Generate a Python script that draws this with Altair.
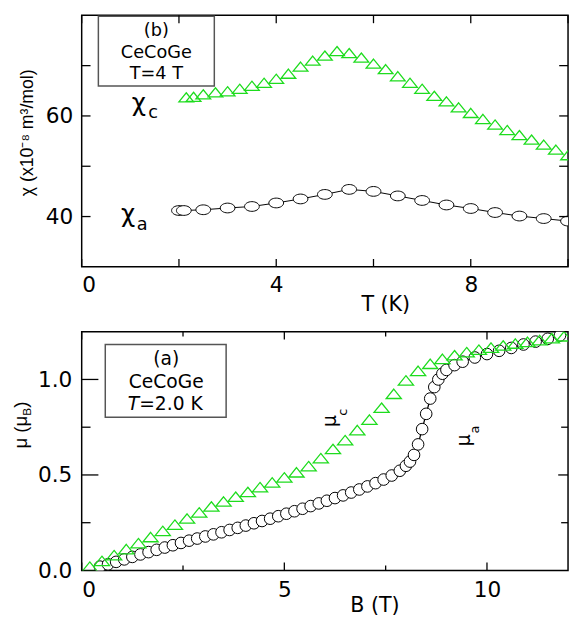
import altair as alt
import pandas as pd

# ---------------- panel (b): chi(T) at 4 T ----------------
chi_c_T = [2.15, 2.3, 2.5, 2.75, 3.0, 3.25, 3.5, 3.75, 4.0, 4.25, 4.5, 4.75, 5.0,
           5.25, 5.5, 5.75, 6.0, 6.25, 6.5, 6.75, 7.0, 7.25, 7.5, 7.75, 8.0, 8.25,
           8.5, 8.75, 9.0, 9.25, 9.5, 9.75, 10.0]
chi_c = [63.7, 63.8, 64.3, 64.7, 64.9, 65.4, 66.0, 66.6, 67.4, 68.4, 69.8, 71.0, 72.0,
         72.9, 72.5, 71.6, 70.4, 69.3, 67.9, 66.6, 65.4, 64.0, 62.9, 61.7, 60.6, 59.4,
         58.3, 57.2, 56.2, 55.3, 54.3, 53.3, 52.2]
chi_a_T = [2.0, 2.1, 2.5, 3.0, 3.5, 4.0, 4.5, 5.0, 5.5, 6.0, 6.5, 7.0, 7.5, 8.0,
           8.5, 9.0, 9.5, 10.0]
chi_a = [41.2, 41.2, 41.35, 41.7, 42.0, 42.7, 43.5, 44.4, 45.4, 45.0, 44.1, 43.2,
         42.3, 41.6, 40.8, 40.1, 39.6, 39.1]

# ---------------- panel (a): mu(B) at 2.0 K ----------------
mu_a_B = [0.45, 0.65, 0.85, 1.05, 1.25, 1.45, 1.65, 1.85, 2.05, 2.25, 2.45, 2.65,
          2.85, 3.05, 3.25, 3.45, 3.65, 3.85, 4.05, 4.25, 4.45, 4.65, 4.85, 5.05,
          5.25, 5.45, 5.65, 5.85, 6.05, 6.25, 6.45, 6.65, 6.85, 7.05, 7.25, 7.45,
          7.65, 7.85, 8.0, 8.1, 8.2, 8.3, 8.4, 8.5, 8.6, 8.7, 8.8, 8.9, 9.0, 9.2,
          9.4, 9.7, 10.0, 10.3, 10.6, 10.9, 11.2, 11.5, 11.8]
mu_a = [0.020, 0.032, 0.045, 0.058, 0.071, 0.084, 0.096, 0.108, 0.120, 0.132, 0.144,
        0.156, 0.167, 0.178, 0.189, 0.200, 0.212, 0.223, 0.235, 0.247, 0.259, 0.271,
        0.284, 0.297, 0.310, 0.323, 0.337, 0.351, 0.365, 0.379, 0.393, 0.408, 0.424,
        0.440, 0.457, 0.476, 0.497, 0.522, 0.548, 0.570, 0.605, 0.660, 0.740, 0.820,
        0.900, 0.960, 1.000, 1.030, 1.050, 1.075, 1.093, 1.115, 1.133, 1.150, 1.165,
        1.183, 1.198, 1.213, 1.230]
mu_c_B = [0.2, 0.5, 0.8, 1.1, 1.4, 1.7, 2.0, 2.3, 2.6, 2.9, 3.2, 3.5, 3.8, 4.1, 4.4,
          4.7, 5.0, 5.3, 5.6, 5.9, 6.2, 6.5, 6.8, 7.1, 7.4, 7.7, 8.0, 8.3, 8.6, 8.9,
          9.2, 9.5, 9.8, 10.1, 10.4, 10.7, 11.0, 11.3, 11.6, 11.9]
mu_c = [0.020, 0.050, 0.080, 0.112, 0.143, 0.175, 0.207, 0.240, 0.272, 0.304, 0.335,
        0.361, 0.386, 0.411, 0.436, 0.461, 0.487, 0.514, 0.546, 0.588, 0.636, 0.682,
        0.735, 0.790, 0.852, 0.925, 0.995, 1.045, 1.082, 1.108, 1.127, 1.143, 1.156,
        1.167, 1.178, 1.188, 1.197, 1.206, 1.216, 1.226]

# ---------------- ticks / labels ----------------
top_x_ticks = [0, 2, 4, 6, 8, 10]
top_x_labels = [0, 4, 8]
top_y_ticks = [40, 50, 60, 70]
top_y_labels = [40, 60]
bot_x_major = [0, 5, 10]
bot_x_minor = [2.5, 7.5]
bot_x_labels = [0, 5, 10]
bot_y_major = [0.5, 1.0]
bot_y_minor = [0.25, 0.75]
bot_y_labels = [0.0, 0.5, 1.0]

W = 495
H1 = 256
H2 = 243
LEFT = 74
GREEN = "#1edc1e"
FONT = "DejaVu Sans"
TFONT = "Liberation Sans"
ELLIPSE = "M-1,0A1,0.66,0,1,1,1,0A1,0.66,0,1,1,-1,0Z"
TRI = "M0,-0.62L1,0.62L-1,0.62Z"

xs1 = alt.Scale(domain=[0, 10], nice=False, zero=False)
ys1 = alt.Scale(domain=[30, 80], nice=False, zero=False)
xs2 = alt.Scale(domain=[0, 12], nice=False, zero=False)
ys2 = alt.Scale(domain=[0, 1.25], nice=False, zero=False)

common = dict(ticks=False, domain=False, grid=False, labelFont=FONT, labelFontSize=22,
              labelColor="black", titleColor="black", titleFontWeight="normal")


def xticks(values, length, H, xs):
    df = pd.DataFrame({"v": values})
    b = alt.Chart(df).mark_rule(color="black", strokeWidth=1.3).encode(
        x=alt.X("v:Q", scale=xs), y=alt.value(H), y2=alt.value(H - length))
    t = alt.Chart(df).mark_rule(color="black", strokeWidth=1.3).encode(
        x=alt.X("v:Q", scale=xs), y=alt.value(0), y2=alt.value(length))
    return [b, t]


def yticks(values, left_len, right_len, ys):
    df = pd.DataFrame({"v": values})
    l = alt.Chart(df).mark_rule(color="black", strokeWidth=1.3).encode(
        y=alt.Y("v:Q", scale=ys), x=alt.value(0), x2=alt.value(left_len))
    r = alt.Chart(df).mark_rule(color="black", strokeWidth=1.3).encode(
        y=alt.Y("v:Q", scale=ys), x=alt.value(W - right_len), x2=alt.value(W))
    return [l, r]


def text_layer(df, xs, ys, **kw):
    return alt.Chart(df).mark_text(color="black", **kw).encode(
        x=alt.X("x:Q", scale=xs), y=alt.Y("y:Q", scale=ys), text="t:N")


def frame_helper(y0, y1, x):
    # invisible layout guide fixing the left extent of the panel
    return alt.Chart(pd.DataFrame({"k": [0]})).mark_rule(opacity=0, strokeWidth=0.5).encode(
        x=alt.value(x), y=alt.value(y0), y2=alt.value(y1))


# ---------------- top panel ----------------
dfc = pd.DataFrame({"T": chi_c_T, "chi": chi_c})
dfa = pd.DataFrame({"T": chi_a_T, "chi": chi_a})

base_ax = alt.Chart(dfa).mark_line(color="black", strokeWidth=1, clip=True).encode(
    x=alt.X("T:Q", scale=xs1,
            axis=alt.Axis(values=top_x_labels, format="d", title="T (K)", labelPadding=8,
                          titleFont=FONT, titleFontSize=21, titleX=309, titleY=38,
                          titleAlign="center", titleBaseline="middle", **common)),
    y=alt.Y("chi:Q", scale=ys1,
            axis=alt.Axis(values=top_y_labels, format="d", title="χ (x10⁻⁸ m³/mol)",
                          labelPadding=9, titleFont=TFONT, titleFontSize=18,
                          titleAngle=270, titleX=-55, titleY=119, titleAlign="center",
                          titleBaseline="middle", **common)),
)
circ_a = alt.Chart(dfa).mark_point(shape=ELLIPSE, size=225, filled=True, fill="white",
                                   stroke="black", strokeWidth=1, opacity=1,
                                   clip=True).encode(
    x=alt.X("T:Q", scale=xs1), y=alt.Y("chi:Q", scale=ys1))
tri_c = alt.Chart(dfc).mark_point(shape=TRI, size=225, filled=False, stroke=GREEN,
                                  strokeWidth=1.3, opacity=1, clip=True).encode(
    x=alt.X("T:Q", scale=xs1), y=alt.Y("chi:Q", scale=ys1))

box_b = pd.DataFrame({"x": [0.343], "x2": [2.727], "y": [79.8], "y2": [65.94]})
rect_b = alt.Chart(box_b).mark_rect(fill="white", stroke="#555555", strokeWidth=1.5).encode(
    x=alt.X("x:Q", scale=xs1), x2="x2:Q", y=alt.Y("y:Q", scale=ys1), y2="y2:Q")
txt_b = text_layer(pd.DataFrame({"x": [1.535] * 3, "y": [76.88, 72.58, 68.28],
                                 "t": ["(b)", "CeCoGe", "T=4 T"]}), xs1, ys1,
                   font=FONT, fontSize=18, align="center", baseline="middle")
chi_big = text_layer(pd.DataFrame({"x": [1.03, 0.808], "y": [61.05, 38.98], "t": ["χ", "χ"]}),
                     xs1, ys1, font=FONT, fontSize=25, align="left", baseline="alphabetic")
chi_sub = text_layer(pd.DataFrame({"x": [1.37, 1.13], "y": [59.69, 37.23], "t": ["c", "a"]}),
                     xs1, ys1, font=FONT, fontSize=18, align="left", baseline="alphabetic")

top = alt.layer(
    base_ax, circ_a, tri_c, rect_b, txt_b, chi_big, chi_sub,
    *xticks(top_x_ticks, 8, H1, xs1), *yticks(top_y_ticks, 9, 9, ys1),
    frame_helper(0, H1 + 50, -LEFT + 0.25),
).properties(width=W, height=H1)

# ---------------- bottom panel ----------------
dma = pd.DataFrame({"B": mu_a_B, "mu": mu_a})
dmc = pd.DataFrame({"B": mu_c_B, "mu": mu_c})

line_a = alt.Chart(dma).mark_line(color="black", strokeWidth=1.3, clip=True).encode(
    x=alt.X("B:Q", scale=xs2,
            axis=alt.Axis(values=bot_x_labels, format="d", title="B (T)", labelPadding=10,
                          titleFont=FONT, titleFontSize=21, titleX=298, titleY=36,
                          titleAlign="center", titleBaseline="middle", **common)),
    y=alt.Y("mu:Q", scale=ys2,
            axis=alt.Axis(values=bot_y_labels, format=".1f", title=None, labelPadding=10,
                          **common)),
)
circ_m = alt.Chart(dma).mark_point(shape="circle", size=140, filled=True, fill="white",
                                   stroke="black", strokeWidth=1, opacity=1,
                                   clip=True).encode(
    x=alt.X("B:Q", scale=xs2), y=alt.Y("mu:Q", scale=ys2))
tri_m = alt.Chart(dmc).mark_point(shape=TRI, size=240, filled=False, stroke=GREEN,
                                  strokeWidth=1.3, opacity=1, clip=True).encode(
    x=alt.X("B:Q", scale=xs2), y=alt.Y("mu:Q", scale=ys2))

box_a = pd.DataFrame({"x": [0.582], "x2": [3.564], "y": [1.183], "y2": [0.802]})
rect_a = alt.Chart(box_a).mark_rect(fill="white", stroke="#555555", strokeWidth=1.5).encode(
    x=alt.X("x:Q", scale=xs2), x2="x2:Q", y=alt.Y("y:Q", scale=ys2), y2="y2:Q")
txt_a = text_layer(pd.DataFrame({"x": [2.085, 2.085], "y": [1.106, 0.988],
                                 "t": ["(a)", "CeCoGe"]}), xs2, ys2,
                   font=FONT, fontSize=19, align="center", baseline="middle")
txt_T = text_layer(pd.DataFrame({"x": [1.42], "y": [0.869], "t": ["T"]}), xs2, ys2,
                   font=FONT, fontSize=19, fontStyle="italic", align="right", baseline="middle")
txt_T2 = text_layer(pd.DataFrame({"x": [1.42], "y": [0.869], "t": ["=2.0 K"]}), xs2, ys2,
                    font=FONT, fontSize=19, align="left", baseline="middle")
mu_big = text_layer(pd.DataFrame({"x": [6.13, 9.44], "y": [0.782, 0.682], "t": ["μ", "μ"]}),
                    xs2, ys2, font=FONT, fontSize=19, angle=270, align="center",
                    baseline="middle")
mu_sub = text_layer(pd.DataFrame({"x": [6.44, 9.70], "y": [0.828, 0.738], "t": ["c", "a"]}),
                    xs2, ys2, font=FONT, fontSize=13, angle=270, align="center",
                    baseline="middle")

yt1 = alt.Chart(pd.DataFrame({"t": ["μ (μ"]})).mark_text(
    font=TFONT, fontSize=19, angle=270, align="left", baseline="middle", color="black").encode(
    x=alt.value(-62), y=alt.value(119), text="t:N")
yt2 = alt.Chart(pd.DataFrame({"t": ["B"]})).mark_text(
    font=TFONT, fontSize=12, angle=270, align="left", baseline="middle", color="black").encode(
    x=alt.value(-56), y=alt.value(85.5), text="t:N")
yt3 = alt.Chart(pd.DataFrame({"t": [")"]})).mark_text(
    font=TFONT, fontSize=19, angle=270, align="left", baseline="middle", color="black").encode(
    x=alt.value(-62), y=alt.value(77.5), text="t:N")

bottom = alt.layer(
    line_a, circ_m, tri_m, rect_a, txt_a, txt_T, txt_T2, mu_big, mu_sub, yt1, yt2, yt3,
    *xticks(bot_x_major, 8, H2, xs2), *xticks(bot_x_minor, 5, H2, xs2),
    *yticks(bot_y_major, 17, 10, ys2), *yticks(bot_y_minor, 9, 7, ys2),
    frame_helper(0, H2, -LEFT + 0.25),
).properties(width=W, height=H2)

chart = alt.vconcat(top, bottom, spacing=13).properties(
    padding={"left": 0, "top": 0, "right": 0, "bottom": 0},
    background="white",
).configure_view(stroke="black", strokeWidth=1.5)

chart.save("out.html", embed_options={"renderer": "svg", "actions": False})
